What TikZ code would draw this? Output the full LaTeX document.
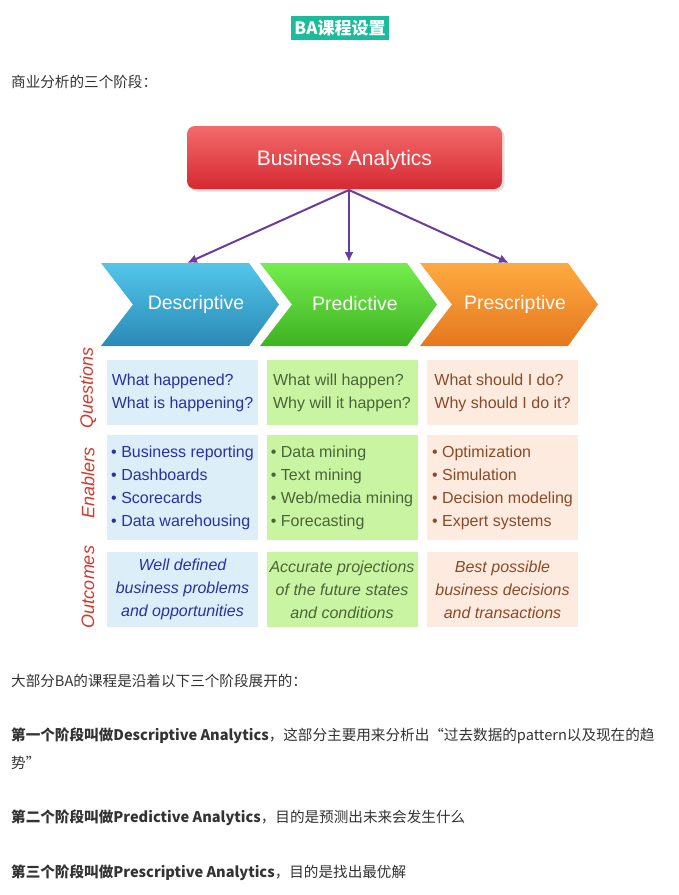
\documentclass[tikz,border=0pt]{standalone}
\usepackage{fontspec}
\setmainfont{Liberation Sans}
\newfontfamily\cjk{Noto Sans CJK SC}
\usetikzlibrary{arrows.meta,shadows}
\definecolor{titleteal}{HTML}{1ABC9C}
\definecolor{bodygray}{HTML}{333333}
\definecolor{batop}{HTML}{F46A6A}
\definecolor{babot}{HTML}{D52A32}
\definecolor{arrowpurple}{HTML}{6A3C9E}
\definecolor{labred}{HTML}{D33A2E}
\definecolor{desctop}{HTML}{52C6EA}
\definecolor{descbot}{HTML}{2A8AB5}
\definecolor{predtop}{HTML}{74EE4C}
\definecolor{predbot}{HTML}{3DB223}
\definecolor{prestop}{HTML}{FFAA40}
\definecolor{presbot}{HTML}{E4781E}
\definecolor{descfill}{HTML}{DCEEF7}
\definecolor{desctext}{HTML}{2B2FA8}
\definecolor{predfill}{HTML}{C9F5A3}
\definecolor{predtext}{HTML}{4A6438}
\definecolor{presfill}{HTML}{FDEBDF}
\definecolor{prestext}{HTML}{8B4A28}
\begin{document}
\begin{tikzpicture}[x=1pt,y=-1pt,
    cell/.style={minimum width=151pt,inner sep=2pt,
      font=\fontsize{16}{23}\selectfont,align=left},
    rowlab/.style={rotate=90,text=labred,font=\fontsize{18}{20}\selectfont\itshape},
    chevtext/.style={text=white!94!pink,font=\fontsize{19.5}{22}\selectfont},
    body/.style={anchor=base west,text=bodygray,inner sep=0,font=\cjk\fontsize{14.6}{16}\selectfont},
    branch/.style={draw=arrowpurple,line width=2pt,-{Latex[length=10pt,width=9pt]}}]
    \useasboundingbox[fill=white] (0,0) rectangle (679,895);
    % heading
    \node[fill=titleteal,text=white,font=\cjk\bfseries\fontsize{17}{20}\selectfont,
      minimum width=98pt,minimum height=24pt,inner sep=0] (title) at (340,28) {BA课程设置};
    \node[body] (intro) at (11,87) {商业分析的三个阶段：};
    % top box
    \shade[top color=batop,bottom color=babot,rounded corners=8pt,drop shadow={opacity=0.25}]
      (187,126) rectangle (502,189);
    \node[text=white!90!pink,font=\fontsize{21}{24}\selectfont] (ba) at (344.5,160) {Business Analytics};
    % chevrons
    \shade[top color=desctop,bottom color=descbot]
      (101,263) -- (249,263) -- (279,304.5) -- (249,346) -- (101,346) -- (133,304.5) -- cycle;
    \shade[top color=predtop,bottom color=predbot]
      (260,263) -- (407,263) -- (437,304.5) -- (407,346) -- (260,346) -- (292,304.5) -- cycle;
    \shade[top color=prestop,bottom color=presbot]
      (420,263) -- (568,263) -- (598,304.5) -- (568,346) -- (420,346) -- (452,304.5) -- cycle;
    \node[chevtext] (desc) at (196,304) {Descriptive};
    \node[chevtext] (pred) at (355,304) {Predictive};
    \node[chevtext] (pres) at (515,304) {Prescriptive};
    \coordinate (bafoot) at (349,190);
    \coordinate (descin) at (187,263);
    \coordinate (predin) at (349,262);
    \coordinate (presin) at (509,263);
    \draw[branch] (bafoot) -- (descin);
    \draw[branch] (bafoot) -- (predin);
    \draw[branch] (bafoot) -- (presin);
    % row labels
    \node[rowlab] (questions) at (88,388) {Questions};
    \node[rowlab] (enablers) at (88,483) {Enablers};
    \node[rowlab] (outcomes) at (88,587) {Outcomes};
    % questions
    \node[cell,fill=descfill,text=desctext,minimum height=65pt] (q1) at (182.5,392.5) {What happened?\\What is happening?};
    \node[cell,fill=predfill,text=predtext,minimum height=65pt] (q2) at (342,392.5) {What will happen?\\Why will it happen?};
    \node[cell,fill=presfill,text=prestext,minimum height=65pt] (q3) at (502.5,392.5) {What should I do?\\Why should I do it?};
    % enablers
    \node[cell,fill=descfill,text=desctext,minimum height=105pt] (e1) at (182.5,487.5)
      {• Business reporting\\• Dashboards\\• Scorecards\\• Data warehousing};
    \node[cell,fill=predfill,text=predtext,minimum height=105pt] (e2) at (342,487.5)
      {• Data mining\\• Text mining\\• Web/media mining\\• Forecasting};
    \node[cell,fill=presfill,text=prestext,minimum height=105pt] (e3) at (502.5,487.5)
      {• Optimization\\• Simulation\\• Decision modeling\\• Expert systems};
    % outcomes
    \node[cell,fill=descfill,text=desctext,minimum height=75pt,align=center,font=\fontsize{16}{23}\selectfont\itshape] (o1) at (182.5,589.5)
      {Well defined\\business problems\\and opportunities};
    \node[cell,fill=predfill,text=predtext,minimum height=75pt,align=center,font=\fontsize{16}{23}\selectfont\itshape] (o2) at (342,589.5)
      {Accurate projections\\of the future states\\and conditions};
    \node[cell,fill=presfill,text=prestext,minimum height=75pt,align=center,font=\fontsize{16}{23}\selectfont\itshape] (o3) at (502.5,589.5)
      {Best possible\\business decisions\\and transactions};
    % text below
    \node[body] (para) at (11,686) {大部分BA的课程是沿着以下三个阶段展开的：};
    \node[body] (first) at (11,740) {\bfseries 第一个阶段叫做Descriptive Analytics\mdseries，这部分主要用来分析出“过去数据的pattern以及现在的趋};
    \node[body] (firstb) at (11,768) {势”};
    \node[body] (second) at (11,822) {\bfseries 第二个阶段叫做Predictive Analytics\mdseries，目的是预测出未来会发生什么};
    \node[body] (third) at (11,877) {\bfseries 第三个阶段叫做Prescriptive Analytics\mdseries，目的是找出最优解};
\end{tikzpicture}
\end{document}
